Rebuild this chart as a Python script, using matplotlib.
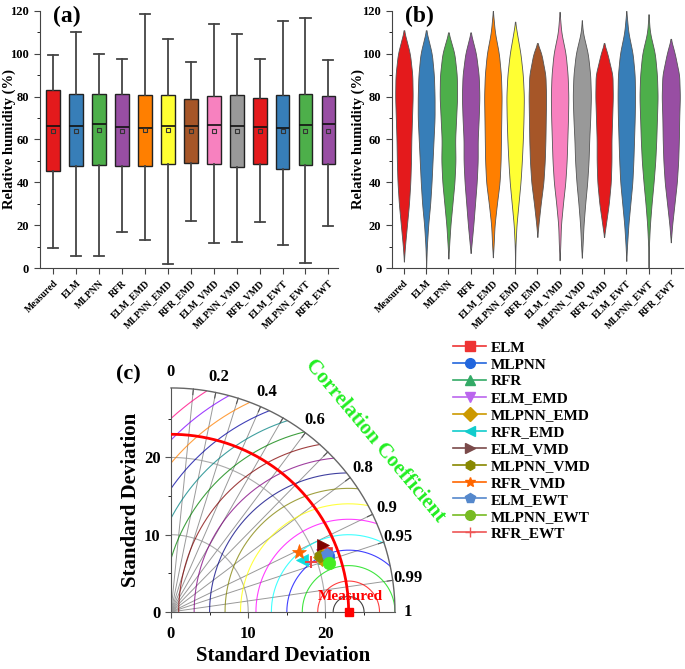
import numpy as np
import matplotlib
matplotlib.use('Agg')
import matplotlib.pyplot as plt
from matplotlib.lines import Line2D

plt.rcParams['font.family'] = ['Liberation Serif', 'DejaVu Serif']
plt.rcParams['font.weight'] = 'bold'
plt.rcParams['axes.labelweight'] = 'bold'

# ---------------- data ----------------
names = ['Measured', 'ELM', 'MLPNN', 'RFR', 'ELM_EMD', 'MLPNN_EMD', 'RFR_EMD',
         'ELM_VMD', 'MLPNN_VMD', 'RFR_VMD', 'ELM_EWT', 'MLPNN_EWT', 'RFR_EWT']
colors = ['#e41a1c', '#377eb8', '#4daf4a', '#984ea3', '#ff7f00', '#ffff33', '#a65628',
          '#f781bf', '#999999', '#e41a1c', '#377eb8', '#4daf4a', '#984ea3']

# box plot statistics (a)
wlo = [9.5, 5.4, 5.8, 16.7, 12.9, 1.7, 21.9, 11.5, 12.1, 21.5, 10.6, 2.3, 19.6]
q1 = [45.3, 47.5, 48.0, 47.6, 47.6, 48.7, 49.0, 48.4, 47.3, 48.7, 46.1, 47.9, 48.7]
med = [66.3, 66.3, 67.0, 65.8, 65.5, 66.3, 66.3, 66.6, 66.3, 65.8, 65.5, 66.6, 67.1]
q3 = [83.3, 81.4, 81.4, 81.1, 80.6, 80.6, 79.0, 80.3, 80.9, 79.5, 80.9, 81.1, 80.3]
whi = [99.6, 110.0, 100.0, 97.7, 118.8, 107.0, 96.0, 113.8, 109.4, 97.4, 115.2, 116.9, 97.0]
mean = [64.0, 64.0, 64.5, 64.0, 64.5, 64.2, 64.0, 64.0, 64.0, 64.0, 63.8, 64.0, 64.0]

# violin profiles (b): half-width (relative) at fixed humidity levels
levels = [10, 20, 30, 40, 50, 60, 70, 80, 90, 100, 110]
v_min = [3, 0, 4.4, 7, 5, 0, 14.5, 3.6, 4.8, 14.5, 3.3, 0, 12]
v_max = [111, 111, 110, 110, 120, 115, 105, 119.6, 115.7, 105, 120, 118.5, 107]
v_w = [
    [3, 9, 15, 19, 21, 22, 24, 26, 25, 18, 2],
    [2, 6, 12, 16, 19, 22, 25, 25, 23, 17, 2],
    [2, 6, 12, 18, 21, 20, 23, 26, 25, 18, 1],
    [2, 8, 13, 18, 21, 21, 24, 26, 24, 16, 1],
    [2, 5, 12, 20, 23, 24, 25, 26, 24, 18, 6],
    [1, 4, 10, 16, 20, 23, 25, 26, 23, 16, 5],
    [0, 3, 10, 18, 22, 24, 25, 26, 24, 12, 0],
    [2, 4, 10, 17, 21, 23, 25, 26, 24, 18, 5],
    [2, 5, 10, 16, 20, 22, 25, 27, 25, 18, 3],
    [0, 5, 14, 20, 22, 22, 24, 26, 25, 10, 0],
    [2, 6, 12, 18, 21, 23, 25, 26, 25, 19, 6],
    [1, 4, 9, 15, 20, 23, 25, 27, 25, 19, 4],
    [0, 4, 11, 18, 22, 24, 25, 27, 25, 12, 0],
]

# Taylor diagram (c)
ref_std = 23.0
models = names[1:]
t_std = [21.4, 21.57, 21.0, 20.95, 20.75, 18.18, 21.54, 20.6, 18.3, 21.55, 21.48, 19.29]
t_corr = [0.935, 0.941, 0.943, 0.936, 0.940, 0.930, 0.915, 0.937, 0.907, 0.937, 0.955, 0.943]
t_markers = ['s', 'o', '^', 'v', 'D', '<', '>', 'h', '*', 'p', 'o', '+']
t_colors = ['#ee3333', '#2266dd', '#33aa66', '#bb66ee', '#cc9900', '#11dddd', '#800000',
            '#888800', '#ff6600', '#5588dd', '#44ee22', '#ee4444']
leg_colors = ['#ee3333', '#2266dd', '#33aa66', '#bb66ee', '#cc9900', '#11cccc', '#7a4a4a',
              '#888800', '#ff6600', '#5588cc', '#77bb22', '#ee5555']
corr_ticks = [0.1, 0.2, 0.3, 0.4, 0.5, 0.6, 0.7, 0.8, 0.9, 0.95, 0.99]
corr_labels = [0, 0.2, 0.4, 0.6, 0.8, 0.9, 0.95, 0.99, 1]
rms_colors = ['#000000', '#ff0000', '#00dd00', '#0000ff', '#00ffff', '#ff00ff', '#ffff00',
              '#808000', '#000080', '#800080', '#800000', '#008000', '#008080', '#0000a0',
              '#ff8000', '#8000ff', '#ff0080']

fig = plt.figure(figsize=(6.85, 6.69), dpi=100)

# ---------------- (a) box plot ----------------
axa = fig.add_axes([0.0578, 0.5994, 0.435, 0.3842])
stats = []
for i in range(len(names)):
    stats.append({'whislo': wlo[i], 'q1': q1[i], 'med': med[i], 'q3': q3[i],
                  'whishi': whi[i], 'mean': mean[i], 'fliers': []})
bp = axa.bxp(stats, positions=range(len(names)), widths=0.6, patch_artist=True,
             showmeans=True, showfliers=False,
             boxprops=dict(edgecolor='#222222', linewidth=1.0),
             medianprops=dict(color='#111111', linewidth=1.2),
             whiskerprops=dict(color='#444444', linewidth=1.3),
             capprops=dict(color='#444444', linewidth=1.3),
             meanprops=dict(marker='s', markerfacecolor='none', markeredgecolor='#333333',
                            markersize=3.5, markeredgewidth=0.8))
for patch, c in zip(bp['boxes'], colors):
    patch.set_facecolor(c)
for cap in bp['caps']:
    x = cap.get_xdata()
    m = x.mean()
    cap.set_xdata([m - 0.22, m + 0.22])

# ---------------- (b) violins ----------------
axb = fig.add_axes([0.5718, 0.5994, 0.4253, 0.3842])
for i in range(len(names)):
    yy = [v_min[i]]
    ww = [0.0]
    for lv, w in zip(levels, v_w[i]):
        if v_min[i] + 2 < lv < v_max[i] - 2:
            yy.append(lv)
            ww.append(w)
    yy.append(v_max[i])
    ww.append(0.0)
    fine = np.linspace(v_min[i], v_max[i], 400)
    wf = np.interp(fine, yy, ww)
    k = 10
    wpad = np.pad(wf, k, mode='edge')
    ws = np.convolve(wpad, np.ones(2 * k + 1) / (2 * k + 1), mode='same')[k:-k]
    ws = np.maximum(ws, 0.15) / 66.0
    axb.fill_betweenx(fine, i - ws, i + ws, facecolor=colors[i], edgecolor='#555555',
                      linewidth=0.6)

for ax, lab in [(axa, '(a)'), (axb, '(b)')]:
    ax.set_ylim(0, 120)
    ax.set_yticks([0, 20, 40, 60, 80, 100, 120])
    ax.set_yticks(np.arange(10, 120, 20), minor=True)
    ax.set_xticks(range(len(names)))
    ax.set_xticklabels(names, rotation=45, ha='right', rotation_mode='anchor', fontsize=7)
    ax.set_ylabel('Relative humidity (%)', fontsize=10.5)
    ax.spines['top'].set_visible(False)
    ax.spines['right'].set_visible(False)
    ax.spines['left'].set_color('#444444')
    ax.spines['bottom'].set_color('#444444')
    ax.tick_params(axis='both', colors='#444444', labelcolor='black', labelsize=9, length=4)
    ax.tick_params(axis='x', labelsize=7, length=4)
    ax.tick_params(axis='y', which='minor', length=2.5)
    ax.text(0.045, 1.02, lab, transform=ax.transAxes, fontsize=17, fontweight='bold',
            va='top', ha='left')
axa.set_xlim(-0.6, 12.4)
axb.set_xlim(-0.55, 12.55)
axa.yaxis.set_label_coords(-0.079, 0.5)
axb.yaxis.set_label_coords(-0.092, 0.5)

# ---------------- (c) Taylor diagram ----------------
R = 29.0
axc = fig.add_axes([0.2496, 0.0852, 0.327, 0.335])
axc.set_xlim(0, R)
axc.set_ylim(0, R)
axc.set_aspect('equal')
axc.spines['top'].set_visible(False)
axc.spines['right'].set_visible(False)
axc.spines['left'].set_color('#555555')
axc.spines['bottom'].set_color('#555555')
axc.set_xticks([0, 10, 20])
axc.set_yticks([0, 10, 20])
axc.set_xticks([5, 15, 25], minor=True)
axc.set_yticks([5, 15, 25], minor=True)
axc.tick_params(labelsize=12, colors='#555555', labelcolor='black', length=4)
axc.tick_params(axis='x', pad=6)
axc.tick_params(which='minor', length=2.5)
axc.set_xlabel('Standard Deviation', fontsize=15, labelpad=3)
axc.set_ylabel('Standard Deviation', fontsize=15, labelpad=2)

th = np.linspace(0, np.pi / 2, 300)
# rms contours around the reference
phi = np.linspace(0, np.pi, 800)
for j, c in enumerate(rms_colors):
    r = 2.0 * (j + 1)
    x = ref_std + r * np.cos(phi)
    y = r * np.sin(phi)
    ok = (x >= 0) & (x ** 2 + y ** 2 <= R ** 2)
    if ok.sum() < 2:
        continue
    axc.plot(np.where(ok, x, np.nan), np.where(ok, y, np.nan), color=c, lw=0.8,
             alpha=0.75, zorder=2)
# std arcs
for s in [10, 20]:
    axc.plot(s * np.cos(th), s * np.sin(th), color='#aaaaaa', lw=0.8, zorder=1)
# correlation lines
for cc in corr_ticks:
    a = np.arccos(cc)
    axc.plot([0, R * np.cos(a)], [0, R * np.sin(a)], color='#999999', lw=0.7, zorder=1)
    axc.plot([R * 0.975 * np.cos(a), R * np.cos(a)], [R * 0.975 * np.sin(a), R * np.sin(a)],
             color='#555555', lw=0.8, zorder=3)
axc.plot(R * np.cos(th), R * np.sin(th), color='#666666', lw=1.0, clip_on=False, zorder=3)
for cl in corr_labels:
    a = np.arccos(cl)
    rr = 30.6 if cl == 1 else 31.0
    axc.text(rr * np.cos(a), rr * np.sin(a), str(cl), fontsize=12, ha='center',
             va='center', clip_on=False)
axc.text(34.5 * np.cos(np.radians(40)), 34.5 * np.sin(np.radians(40)),
         'Correlation Coefficient', color='#22ee22', fontsize=15, rotation=-50,
         ha='center', va='center', clip_on=False)

# reference
axc.plot(ref_std * np.cos(th), ref_std * np.sin(th), color='#ff0000', lw=2.0, zorder=4)
axc.plot([ref_std], [0], marker='s', color='#ff0000', ms=6, clip_on=False, zorder=6)
axc.text(ref_std + 0.2, 2.0, 'Measured', color='#ff0000', fontsize=11, ha='center',
         va='center', zorder=6)

handles = []
for k in range(len(models)):
    a = np.arccos(t_corr[k])
    mec = t_colors[k]
    axc.plot([t_std[k] * np.cos(a)], [t_std[k] * np.sin(a)], marker=t_markers[k],
             color=t_colors[k], ms=9 if t_markers[k] != '*' else 11,
             mew=1.5 if t_markers[k] == '+' else 0.5, mec=mec, linestyle='none', zorder=7)
    handles.append(Line2D([0], [0], color=leg_colors[k], marker=t_markers[k], ms=7,
                          lw=1.2, mec=leg_colors[k], label=models[k]))

fig.text(0.187, 0.4395, '(c)', fontsize=16, fontweight='bold', ha='center', va='center')
fig.legend(handles=handles, loc='upper left', bbox_to_anchor=(0.652, 0.4995),
           frameon=False, fontsize=11, handlelength=2.2, labelspacing=0.21,
           handletextpad=0.3, borderaxespad=0)

fig.savefig('out.png', dpi=100)
